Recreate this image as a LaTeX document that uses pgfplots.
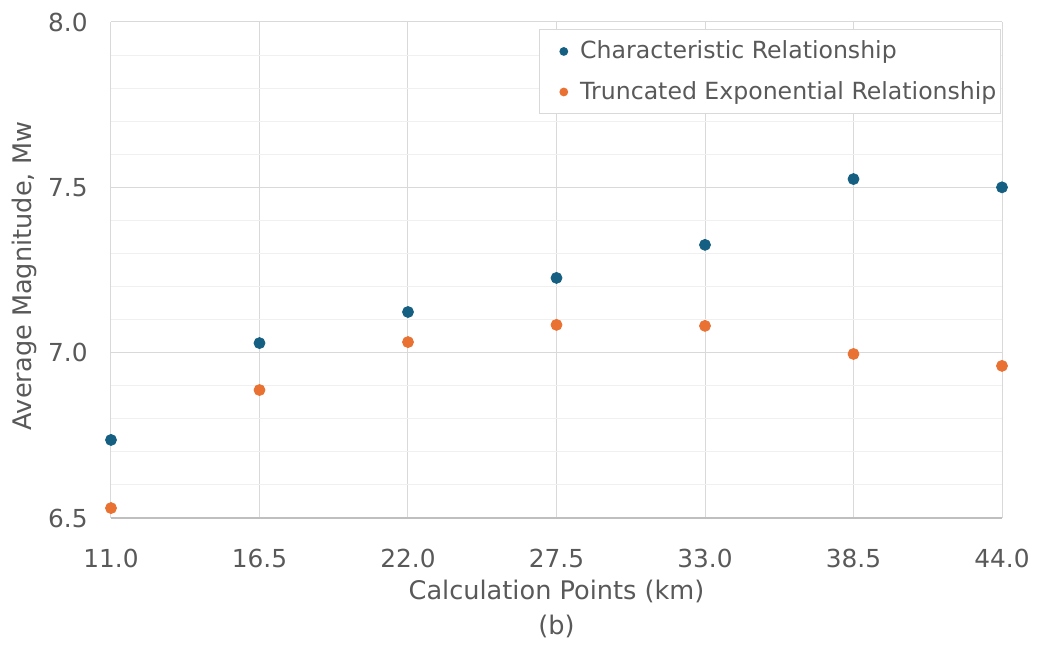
\documentclass[border=0pt]{standalone}
\usepackage{pgfplots}
\pgfplotsset{compat=1.18}
\usepackage{fontspec}
\setmainfont{DejaVu Sans}

\definecolor{charblue}{HTML}{156082}
\definecolor{truncorange}{HTML}{E97132}
\definecolor{txtgray}{HTML}{595959}
\definecolor{majgrid}{HTML}{D9D9D9}
\definecolor{mingrid}{HTML}{F0F0F0}
\definecolor{basegray}{HTML}{BFBFBF}

% Average magnitude at each calculation point
\pgfplotstableread{
x     mw
11.0  6.736
16.5  7.029
22.0  7.123
27.5  7.226
33.0  7.326
38.5  7.525
44.0  7.500
}\characteristic
\pgfplotstableread{
x     mw
11.0  6.530
16.5  6.887
22.0  7.032
27.5  7.084
33.0  7.081
38.5  6.996
44.0  6.960
}\truncated

\newcommand{\legendfont}{\fontsize{11.8}{14}\selectfont}
\newcommand{\tickfont}{\fontsize{12.4}{14}\selectfont}
\newcommand{\labelfont}{\fontsize{12.8}{17.5}\selectfont}

\begin{document}
\begin{tikzpicture}
\begin{axis}[
  name=main,
  scale only axis,
  width=445.5pt, height=248pt,
  xmin=11, xmax=44, ymin=6.5, ymax=8.0,
  xtick={11,16.5,22,27.5,33,38.5,44},
  ytick={6.5,7.0,7.5,8.0},
  minor y tick num=4,
  xmajorgrids, ymajorgrids, yminorgrids,
  major grid style={draw=majgrid, line width=0.5pt},
  minor grid style={draw=mingrid, line width=0.5pt},
  axis x line=bottom, axis y line=left,
  x axis line style={draw=basegray, line width=0.7pt, -},
  y axis line style={draw=majgrid, line width=0.5pt, -},
  tick style={draw=none},
  /pgf/number format/assume math mode=true,
  /pgf/number format/.cd, fixed, fixed zerofill, precision=1,
  /pgfplots/.cd,
  tick label style={font=\tickfont, text=txtgray},
  xticklabel style={anchor=base, yshift=-22.5pt},
  yticklabel style={anchor=east, xshift=-6pt},
  xlabel={Calculation Points (km)\\(b)},
  xlabel style={font=\labelfont, text=txtgray, align=center,
    at={([yshift=-27.3pt]axis description cs:0.5,0)}, anchor=north},
  ylabel={Average Magnitude, Mw},
  ylabel style={font=\labelfont, text=txtgray,
    at={([xshift=-39.5pt,yshift=-3pt]axis description cs:0,0.5)}, anchor=base},
  clip=false,
  legend cell align=left,
  legend style={at={(rel axis cs:1,1)}, anchor=north east, xshift=-0.5pt, yshift=-3.5pt,
    draw=majgrid, fill=white, line width=0.6pt, font=\legendfont, text=txtgray,
    inner xsep=0pt, inner ysep=3.7pt, row sep=5.8pt,
    nodes={inner xsep=2pt},
    /tikz/every odd column/.append style={column sep=4pt}},
  legend image code/.code={%
    \path[draw=none, fill=none] (-12pt,-1pt) rectangle (2pt,1pt);
    \fill[#1, draw=none] (0pt,0pt) circle (2.2pt);},
]
\addplot[only marks, mark=*, mark size=2.75pt, color=charblue,
  mark options={fill=charblue, draw=charblue}]
  table[x=x, y=mw] {\characteristic};
\addlegendentry{Characteristic Relationship}
\addplot[only marks, mark=*, mark size=2.75pt, color=truncorange,
  mark options={fill=truncorange, draw=truncorange}]
  table[x=x, y=mw] {\truncated};
\addlegendentry{Truncated Exponential Relationship}
\end{axis}
\pgfresetboundingbox
\path ([xshift=-55.5pt,yshift=-68.5pt]main.south west) rectangle ([xshift=18.5pt,yshift=11pt]main.north east);
\end{tikzpicture}
\end{document}
